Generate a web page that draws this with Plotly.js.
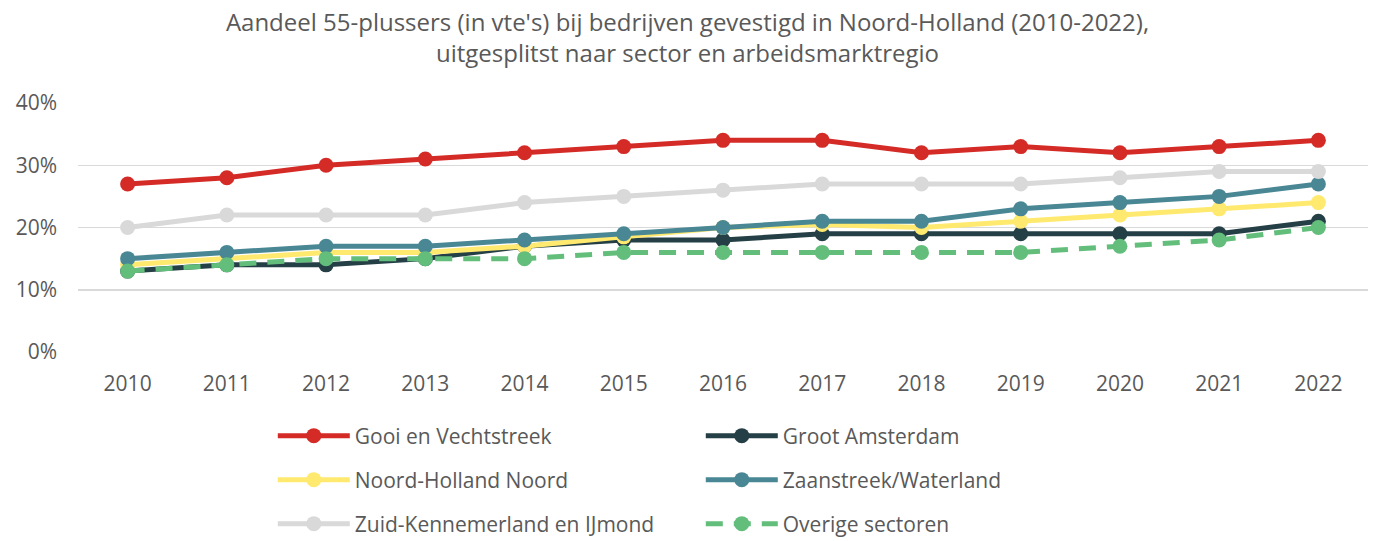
<!DOCTYPE html>
<html>
<head>
<meta charset="utf-8">
<script src="https://cdn.plot.ly/plotly-3.0.1.min.js"></script>
<style>html,body{margin:0;padding:0;background:#fff;}#chart{width:1375px;height:541px;}</style>
</head>
<body>
<div id="chart"></div>
<script>
const years = ['2010','2011','2012','2013','2014','2015','2016','2017','2018','2019','2020','2021','2022'];
const gooi = [27,28,30,31,32,33,34,34,32,33,32,33,34];
const grootAmsterdam = [13,14,14,15,17,18,18,19,19,19,19,19,21];
const noordHollandNoord = [14,15,16,16,17,18.5,20,20.5,20,21,22,23,24];
const zaanstreek = [15,16,17,17,18,19,20,21,21,23,24,25,27];
const zuidKennemerland = [20,22,22,22,24,25,26,27,27,27,28,29,29];
const overige = [13,14,15,15,15,16,16,16,16,16,17,18,20];
const yTicks = [0,10,20,30,40];
const yTickText = ['0%','10%','20%','30%','40%'];

const FONT = '"Open Sans", Lato, sans-serif';
const GREY = '#595959';

function tr(name, y, color, legend, dash) {
  return {
    x: years, y: y, name: name, type: 'scatter', mode: 'lines+markers',
    line: {color: color, width: 5, dash: dash || 'solid'},
    marker: {color: color, size: 15},
    legend: legend
  };
}
const data = [
  tr('Gooi en Vechtstreek', gooi, '#D42B27', 'legend'),
  tr('Groot Amsterdam', grootAmsterdam, '#243F45', 'legend'),
  tr('Noord-Holland Noord', noordHollandNoord, '#FFE96E', 'legend2'),
  tr('Zaanstreek/Waterland', zaanstreek, '#4A8794', 'legend2'),
  tr('Zuid-Kennemerland en IJmond', zuidKennemerland, '#D9D9D9', 'legend3'),
  tr('Overige sectoren', overige, '#63BE7B', 'legend3', '17px,11px')
];
function leg(y) {
  return {
    orientation: 'h', x: 0.151, xanchor: 'left', y: y, yanchor: 'middle',
    yref: 'container', entrywidth: 341, entrywidthmode: 'pixels',
    font: {family: FONT, size: 21, color: GREY}, itemwidth: 72,
    bgcolor: 'rgba(0,0,0,0)'
  };
}
const layout = {
  width: 1375, height: 541,
  margin: {l: 78, r: 7, t: 103, b: 189},
  paper_bgcolor: '#fff', plot_bgcolor: '#fff',
  font: {family: FONT, color: GREY},
  title: {
    text: "Aandeel 55-plussers (in vte's) bij bedrijven gevestigd in Noord-Holland (2010-2022),<br>uitgesplitst naar sector en arbeidsmarktregio",
    font: {family: FONT, size: 24, color: GREY},
    x: 0.5, xanchor: 'center', y: 1 - 31/541, yanchor: 'middle', yref: 'container'
  },
  xaxis: {
    type: 'category', range: [-0.5, 12.5], showgrid: false, zeroline: false,
    showline: false, ticks: '', tickfont: {family: FONT, size: 21, color: GREY},
    ticklabelstandoff: 17
  },
  yaxis: {
    range: [0, 40], tickvals: yTicks, ticktext: yTickText,
    showgrid: true, gridcolor: '#D9D9D9', gridwidth: 1.5, zeroline: false,
    showline: false, ticks: '', tickfont: {family: FONT, size: 21, color: GREY},
    ticklabelstandoff: 20
  },
  showlegend: true,
  legend: leg(1 - 436/541),
  legend2: leg(1 - 480/541),
  legend3: leg(1 - 524/541)
};
Plotly.newPlot('chart', data, layout, {displayModeBar: false, staticPlot: true});
</script>
</body>
</html>
